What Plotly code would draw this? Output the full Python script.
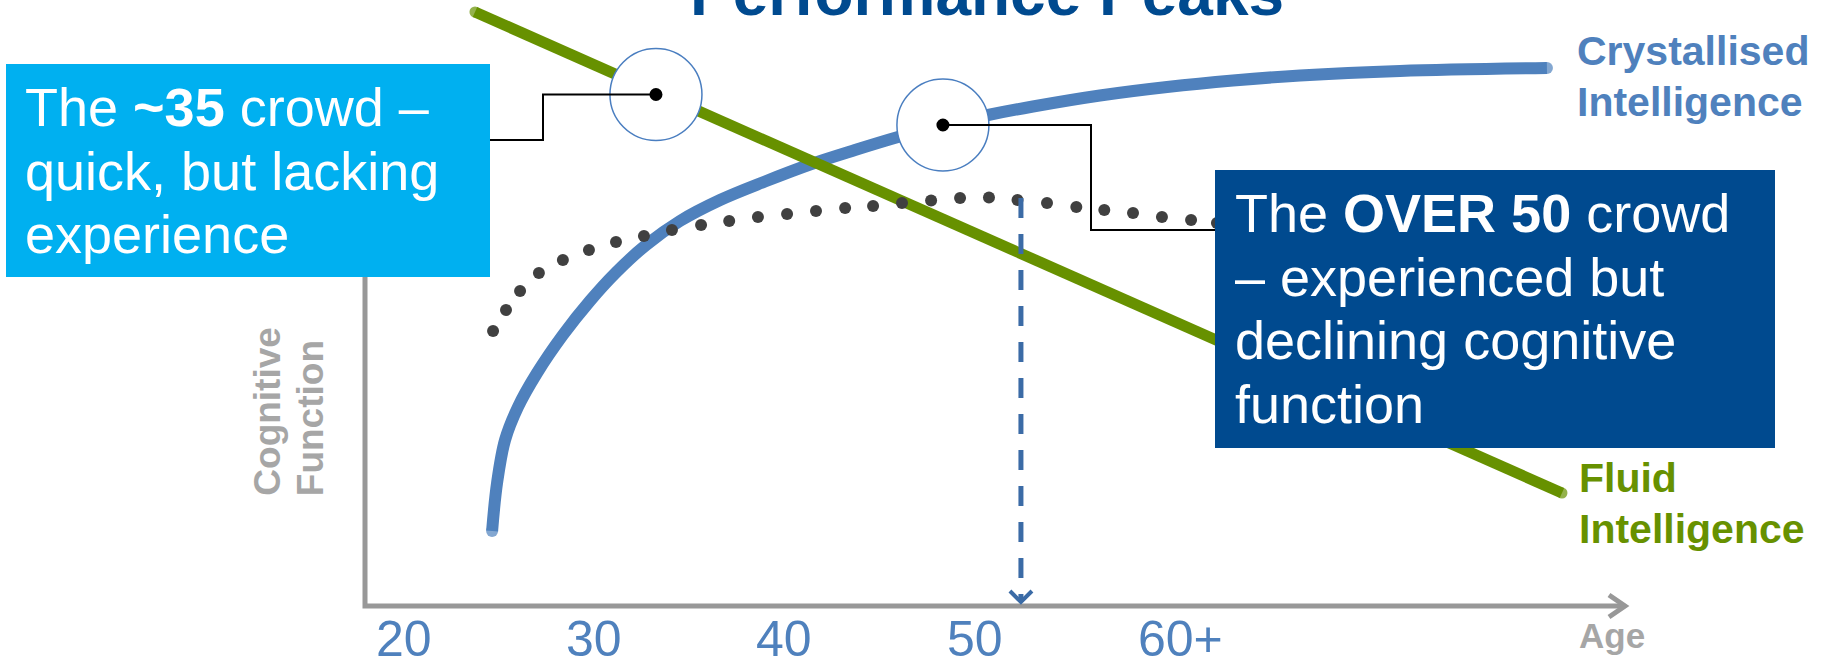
import plotly.graph_objects as go

W, H = 1833, 659
FONT = "Liberation Sans, Arial, sans-serif"

# ---- data -------------------------------------------------------------
tick_ages = [20, 30, 40, 50, 60]
tick_text = ["20", "30", "40", "50", "60+"]

# Crystallised intelligence: keeps rising, then flattens out
crys_age = [24.64, 24.90, 25.32, 26.00, 27.00, 28.36, 29.78, 31.15, 32.73,
            34.51, 36.62, 38.98, 41.34, 43.71, 45.97, 48.33, 50.70, 53.06,
            56.58, 60.11, 63.57, 67.10, 72.35, 80.07]
crys_val = [15.0, 24.6, 33.2, 39.8, 46.6, 54.2, 61.0, 66.7, 72.2,
            77.0, 81.2, 84.9, 88.3, 91.2, 93.8, 96.2, 98.2, 99.9,
            102.1, 103.8, 105.1, 106.1, 107.0, 107.6]

# Fluid intelligence: steady decline
fluid_age = [23.74, 80.86]
fluid_val = [118.8, 22.6]

# Overall performance (dotted)
perf_age = [24.69, 25.37, 26.11, 27.10, 28.36, 29.73, 31.15, 32.62, 34.09,
            35.62, 37.10, 38.61, 40.14, 41.66, 43.19, 44.66, 46.18, 47.71,
            49.23, 50.75, 52.25, 53.80, 55.34, 56.81, 58.32, 59.84, 61.37,
            62.73]
perf_val = [55.0, 59.2, 63.0, 66.6, 69.2, 71.2, 72.8, 74.0, 75.2,
            76.2, 77.0, 77.8, 78.4, 79.0, 79.6, 80.0, 80.6, 81.1,
            81.6, 81.7, 81.2, 80.6, 79.8, 79.2, 78.6, 77.8, 77.2,
            76.6]

peak_age = 52.43
peak_val = 81.6

young_pt = (33.25, 102.3)   # "~35 crowd" callout on the fluid line
old_pt = (48.33, 96.2)      # "OVER 50" callout on the crystallised curve

# ---- scales (full-bleed plot area) ------------------------------------
X0, KX = 23.2, 19.03      # pixel x of age 0, pixels per year
Y0, KY = 606.0, 5.0       # pixel y of value 0, pixels per unit
x_range = [-X0 / KX, (W - X0) / KX]
y_range = [(Y0 - H) / KY, Y0 / KY]


def px(x):
    return x / W


def py(y):
    return 1 - y / H


def data_px(age, val):
    return X0 + KX * age, Y0 - KY * val


BLUE = "#4F81BD"
GREEN = "#679100"
NAVY = "#004A8F"
CYAN = "#00B0F0"
GREY = "#989898"
LABEL_GREY = "#A6A6A6"
DASH_BLUE = "#3B6BA6"
DOT = "#404040"

fig = go.Figure()


def end_caps(n, size):
    return [size] + [0] * (n - 2) + [size]


fig.add_trace(go.Scatter(
    x=crys_age, y=crys_val, mode="lines+markers",
    line=dict(color=BLUE, width=12, shape="spline", smoothing=1.0),
    marker=dict(color=BLUE, size=end_caps(len(crys_age), 12), line=dict(width=0)),
    hoverinfo="skip"))

fig.add_trace(go.Scatter(
    x=fluid_age, y=fluid_val, mode="lines+markers",
    line=dict(color=GREEN, width=11),
    marker=dict(color=GREEN, size=end_caps(len(fluid_age), 11), line=dict(width=0)),
    hoverinfo="skip"))

fig.add_trace(go.Scatter(
    x=perf_age, y=perf_val, mode="markers",
    marker=dict(color=DOT, size=12, line=dict(width=0)),
    hoverinfo="skip"))

fig.add_trace(go.Scatter(
    x=[peak_age, peak_age], y=[peak_val, 0.8], mode="lines",
    line=dict(color=DASH_BLUE, width=5, dash="20px,16px"),
    hoverinfo="skip"))

shapes = []

# axes with open arrowheads
shapes.append(dict(type="path", xref="paper", yref="paper", layer="below",
                   path=f"M {px(365)},{py(150)} L {px(365)},{py(606)} L {px(1623)},{py(606)}",
                   line=dict(color=GREY, width=5)))
shapes.append(dict(type="path", xref="paper", yref="paper", layer="above",
                   path=f"M {px(1609)},{py(595)} L {px(1625)},{py(606)} L {px(1609)},{py(617)}",
                   line=dict(color=GREY, width=5)))

# arrowhead of the dashed peak marker
pk_x, _ = data_px(peak_age, 0)
shapes.append(dict(type="path", xref="paper", yref="paper", layer="above",
                   path=f"M {px(pk_x - 11)},{py(591)} L {px(pk_x)},{py(602)} L {px(pk_x + 11)},{py(591)}",
                   line=dict(color=DASH_BLUE, width=4)))

# callout circles and dots
for age, val in (young_pt, old_pt):
    shapes.append(dict(type="circle", xref="x", yref="y", layer="above",
                       xsizemode="pixel", ysizemode="pixel",
                       xanchor=age, yanchor=val, x0=-46, x1=46, y0=-46, y1=46,
                       fillcolor="white", line=dict(color="#4A7EC0", width=1.5)))

# connectors from text boxes to callout points
yx, yy = data_px(*young_pt)
shapes.append(dict(type="path", xref="paper", yref="paper", layer="above",
                   path=(f"M {px(490)},{py(140)} L {px(543)},{py(140)} "
                         f"L {px(543)},{py(yy)} L {px(yx)},{py(yy)}"),
                   line=dict(color="black", width=2)))
ox, oy = data_px(*old_pt)
shapes.append(dict(type="path", xref="paper", yref="paper", layer="above",
                   path=(f"M {px(ox)},{py(oy)} L {px(1091)},{py(oy)} "
                         f"L {px(1091)},{py(230)} L {px(1215)},{py(230)}"),
                   line=dict(color="black", width=2)))

for age, val in (young_pt, old_pt):
    shapes.append(dict(type="circle", xref="x", yref="y", layer="above",
                       xsizemode="pixel", ysizemode="pixel",
                       xanchor=age, yanchor=val, x0=-6.5, x1=6.5, y0=-6.5, y1=6.5,
                       fillcolor="black", line=dict(width=0)))

# text boxes
shapes.append(dict(type="rect", xref="paper", yref="paper", layer="above",
                   x0=px(6), x1=px(490), y0=py(277), y1=py(64),
                   fillcolor=CYAN, line=dict(width=0)))
shapes.append(dict(type="rect", xref="paper", yref="paper", layer="above",
                   x0=px(1215), x1=px(1775), y0=py(448), y1=py(170),
                   fillcolor=NAVY, line=dict(width=0)))

annotations = []


def text(t, x, baseline, size, color, xanchor="left", angle=0):
    annotations.append(dict(
        text=t, x=px(x), y=py(baseline - 0.3465 * size),
        xref="paper", yref="paper", showarrow=False,
        xanchor=xanchor, yanchor="middle", textangle=angle, borderpad=0,
        font=dict(family=FONT, size=size, color=color)))


text("<b>Performance Peaks</b>", 987, 15, 64, NAVY, xanchor="center")

for line, base in zip(["The <b>~35</b> crowd –", "quick, but lacking", "experience"],
                      [126, 189.5, 253]):
    text(line, 24, base, 54, "white")

for line, base in zip(["The <b>OVER 50</b> crowd", "– experienced but",
                       "declining cognitive", "function"],
                      [232, 295.5, 359, 422.5]):
    text(line, 1234, base, 54, "white")

text("<b>Crystallised</b>", 1576, 65, 41, BLUE)
text("<b>Intelligence</b>", 1576, 116, 41, BLUE)
text("<b>Fluid</b>", 1578, 492, 41, GREEN)
text("<b>Intelligence</b>", 1578, 543, 41, GREEN)
text("<b>Age</b>", 1578, 648, 35, LABEL_GREY)

# rotated value-axis title, lines start at the same height
for word, base in (("Cognitive", 280), ("Function", 323)):
    annotations.append(dict(
        text=f"<b>{word}</b>", x=px(base - 0.3465 * 37), y=py(497),
        xref="paper", yref="paper", showarrow=False, textangle=-90,
        xanchor="center", yanchor="bottom", borderpad=0,
        font=dict(family=FONT, size=37, color=LABEL_GREY)))

# age tick labels
for age, lab in zip(tick_ages, tick_text):
    shift = -0.556 * 50 if lab.endswith("+") else 0
    annotations.append(dict(
        text=lab, x=age, xref="x", y=py(656 - 0.3465 * 50), yref="paper",
        showarrow=False, xanchor="left" if shift else "center", xshift=shift,
        yanchor="middle", borderpad=0,
        font=dict(family=FONT, size=50, color=BLUE)))

fig.update_layout(
    width=W, height=H,
    margin=dict(l=0, r=0, t=0, b=0),
    paper_bgcolor="white", plot_bgcolor="white",
    showlegend=False,
    xaxis=dict(range=x_range, visible=False, fixedrange=True),
    yaxis=dict(range=y_range, visible=False, fixedrange=True),
    shapes=shapes, annotations=annotations,
)

fig.write_html("out.html", config={"displayModeBar": False})
